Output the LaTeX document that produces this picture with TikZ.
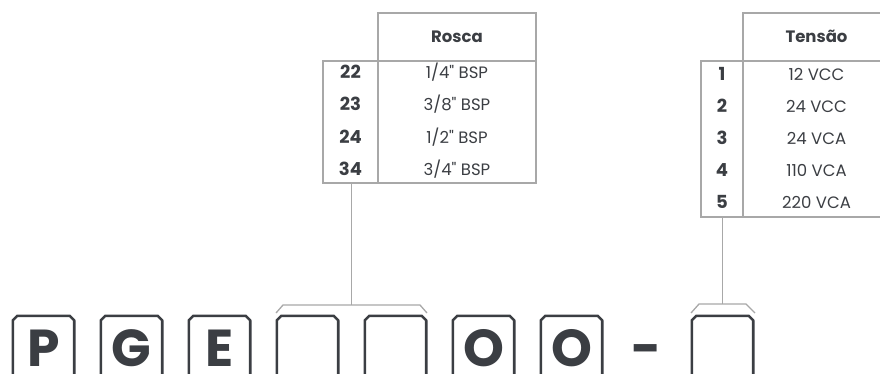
\documentclass[tikz,border=0pt]{standalone}
\usepackage{fontspec}
\setmainfont{Poppins}[Ligatures=TeXOff]
\definecolor{ink}{HTML}{3B3E43}
\definecolor{rule}{HTML}{A8A8A8}

\begin{document}
\begin{tikzpicture}[
    x=1pt, y=-1pt,
    every node/.style={text=ink, inner sep=0pt},
    grid/.style={draw=rule, line width=1.3pt},
    link/.style={draw=rule, line width=1.3pt},
    cell/.style={text height=11pt, text depth=0pt},
    head/.style={cell, font=\fontsize{16.5}{18}\selectfont\bfseries},
    code/.style={cell, font=\fontsize{18}{20}\selectfont\bfseries},
    val/.style={cell, font=\fontsize{16.5}{18}\selectfont},
    slot/.style={minimum width=61pt, minimum height=62pt},
    frame/.style={draw=ink, line width=2.6pt, line join=round},
    letter/.style={text height=38pt, text depth=0pt,
        font=\fontsize{52}{52}\selectfont\bfseries}
]
  \clip (0,0) rectangle (880,373);

  % Rosca table
  \draw[grid] (378,183) -- (378,13) -- (536,13) -- (536,183);
  \draw[grid] (323,61) rectangle (536,183);
  \node[head] (rosca) at (457,37) {Rosca};
  \node[code] (r22) at (350.5,72.5)  {22};
  \node[code] (r23) at (350.5,105)   {23};
  \node[code] (r24) at (350.5,137.5) {24};
  \node[code] (r34) at (350.5,170)   {34};
  \node[val] (v22) at (457,72.5)  {1/4" BSP};
  \node[val] (v23) at (457,105)   {3/8" BSP};
  \node[val] (v24) at (457,137.5) {1/2" BSP};
  \node[val] (v34) at (457,170)   {3/4" BSP};

  % Tensao table
  \draw[grid] (743,217) -- (743,13) -- (890,13);
  \draw[grid] (890,61) -- (701,61) -- (701,217) -- (890,217);
  \node[head] (tensao) at (816.5,37) {Tensão};
  \node[code] (t1) at (722,75)  {1};
  \node[code] (t2) at (722,107) {2};
  \node[code] (t3) at (722,139) {3};
  \node[code] (t4) at (722,171) {4};
  \node[code] (t5) at (722,203) {5};
  \node[val] (u1) at (816.5,75)  {12 VCC};
  \node[val] (u2) at (816.5,107) {24 VCC};
  \node[val] (u3) at (816.5,139) {24 VCA};
  \node[val] (u4) at (816.5,171) {110 VCA};
  \node[val] (u5) at (816.5,203) {220 VCA};

  % Code slots
  \node[slot] (s1) at (43.5,347)  {};
  \node[slot] (s2) at (131.5,347) {};
  \node[slot] (s3) at (219.5,347) {};
  \node[slot] (s4) at (307.5,347) {};
  \node[slot] (s5) at (395.5,347) {};
  \node[slot] (s6) at (483.5,347) {};
  \node[slot] (s7) at (571.5,347) {};
  \node[slot] (s8) at (722.5,347) {};
  \foreach \s in {s1,s2,s3,s4,s5,s6,s7,s8}
    \draw[frame] (\s.south west) -- ([yshift=-4.5pt]\s.north west)
      -- ([xshift=4.5pt]\s.north west) -- ([xshift=-4.5pt]\s.north east)
      -- ([yshift=-4.5pt]\s.north east) -- (\s.south east);
  \node[letter] (p) at (s1.center) {P};
  \node[letter] (g) at (s2.center) {G};
  \node[letter] (e) at (s3.center) {E};
  \node[letter] (o1) at (s6.center) {O};
  \node[letter] (o2) at (s7.center) {O};
  \node[letter] (dash) at (646.5,347) {-};

  % Brackets and links
  \draw[link] (276,313) -- (283,305) -- (420,305) -- (427,313);
  \draw[link] (691,313) -- (699,304) -- (746,304) -- (755,313);
  \coordinate (roscaOut) at (351.5,183);
  \coordinate (roscaIn)  at (351.5,305);
  \coordinate (tensaoOut) at (722.5,217);
  \coordinate (tensaoIn)  at (722.5,304);
  \draw[link] (roscaOut) -- (roscaIn);
  \draw[link] (tensaoOut) -- (tensaoIn);
\end{tikzpicture}
\end{document}
